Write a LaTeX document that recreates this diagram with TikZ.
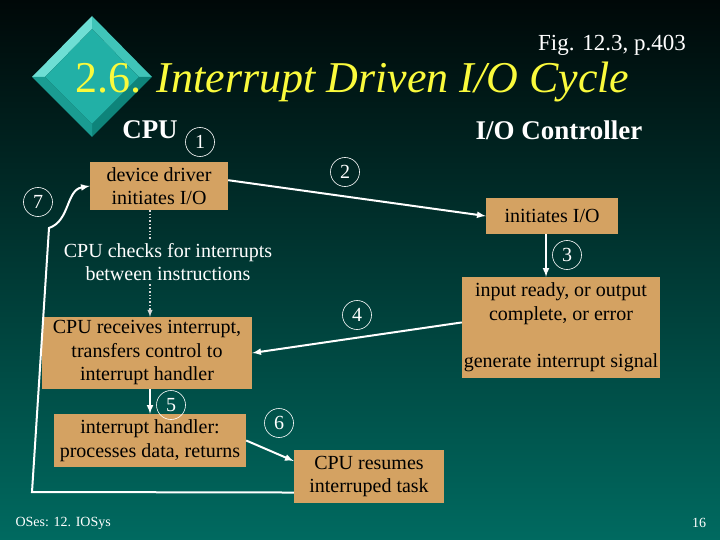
\documentclass[tikz,border=0pt]{standalone}
\usepackage{fontspec}
\setmainfont{Liberation Serif}
\usepackage{xcolor}
\usepackage{tikz}
\usetikzlibrary{calc}

\definecolor{fondhaut}{RGB}{0,8,8}
\definecolor{fondbas}{RGB}{0,106,96}
\definecolor{ocre}{RGB}{212,162,98}
\definecolor{jaune}{RGB}{250,250,60}
\definecolor{facea}{RGB}{110,222,212}
\definecolor{faceb}{RGB}{64,196,184}
\definecolor{facec}{RGB}{14,132,122}
\definecolor{faced}{RGB}{26,156,146}
\definecolor{facee}{RGB}{34,176,166}

\newcommand{\boitefont}{\fontsize{20}{23.5}\selectfont}
\newcommand{\numfont}{\fontsize{20}{22}\selectfont}
\newcommand{\titrefont}{\fontsize{27}{30}\selectfont\bfseries}

\begin{document}
\begin{tikzpicture}[x=1pt,y=-1pt,
	boite/.style={rectangle,fill=ocre,text=black,align=center,inner sep=0pt,font=\boitefont},
	num/.style={circle,draw=white,line width=0.6pt,text=white,inner sep=0pt,minimum size=29pt,font=\numfont},
	fleche/.style={->,>=latex,white,line width=2pt},
	pointille/.style={white!85!black,dotted,line width=1.4pt}]
% fond
\shade[top color=fondhaut,bottom color=fondbas] (0,0) rectangle (720,540);
\useasboundingbox (0,0) rectangle (720,540);
% losange
\coordinate (T) at (92,16);
\coordinate (R) at (152,77);
\coordinate (B) at (92,137);
\coordinate (L) at (32,77);
\coordinate (iT) at (92,29);
\coordinate (iR) at (139,77);
\coordinate (iB) at (92,124);
\coordinate (iL) at (45,77);
\fill[facea] (L)--(T)--(iT)--(iL)--cycle;
\fill[faceb] (T)--(R)--(iR)--(iT)--cycle;
\fill[facec] (R)--(B)--(iB)--(iR)--cycle;
\fill[faced] (B)--(L)--(iL)--(iB)--cycle;
\fill[facee] (iT)--(iR)--(iB)--(iL)--cycle;
% titres
\node (fig) at (612,45) {\color{white}\fontsize{23}{25}\selectfont Fig. 12.3, p.403};
\node[anchor=base west,text=jaune,inner sep=0pt] (titre) at (75,93)
	{\fontsize{44}{48}\selectfont 2.6.\hspace{0.35em}\textit{Interrupt Driven I/O Cycle}};
\node[text=white,font=\titrefont] (cpu) at (150,130) {CPU};
\node[text=white,font=\titrefont] (ctrl) at (559,130) {I/O Controller};
% boites
\node[boite,minimum width=138pt,minimum height=48pt] (driver) at (159,186) {device driver\\initiates I/O};
\node[boite,minimum width=132pt,minimum height=36pt] (init) at (552,216) {initiates I/O};
\node[boite,minimum width=198pt,minimum height=101pt] (ready) at (561,327.5)
	{input ready, or output\\complete, or error\\[24pt]generate interrupt signal};
\node[text=white,align=center,font=\boitefont] (checks) at (168,262) {CPU checks for interrupts\\between instructions};
\node[boite,minimum width=210pt,minimum height=72pt] (recoit) at (147,353)
	{CPU receives interrupt,\\transfers control to\\interrupt handler};
\node[boite,minimum width=192pt,minimum height=53pt] (handler) at (150,440.5)
	{interrupt handler:\\processes data, returns};
\node[boite,minimum width=150pt,minimum height=53pt] (reprend) at (369,476.5)
	{CPU resumes\\interruped task};
% numeros
\node[num] (n1) at (200,142) {1};
\node[num] (n2) at (345,172) {2};
\node[num] (n3) at (567,255) {3};
\node[num] (n4) at (357,315) {4};
\node[num] (n5) at (171,405) {5};
\node[num] (n6) at (279,423) {6};
\node[num] (n7) at (38,202) {7};
% fleches
\draw[fleche] ($(driver.north east)!0.38!(driver.south east)$) -- (init.west);
\draw[fleche] (init.south -| 546,0) -- (ready.north -| 546,0);
\draw[fleche] ($(ready.north west)!0.45!(ready.south west)$) -- (recoit.east);
\draw[pointille] (driver.south -| 150,0) -- (checks.north -| 150,0);
\draw[pointille,->,>=latex] (checks.south -| 150,0) -- (recoit.north -| 150,0);
\draw[fleche] (recoit.south -| 150,0) -- (handler.north -| 150,0);
\draw[fleche] (handler.east) -- ($(reprend.north west)!0.21!(reprend.south west)$);
\coordinate (C1) at (32,492);
\coordinate (C2) at (49,228);
\draw[fleche] ($(reprend.north west)!0.8!(reprend.south west)$) -- (C1) -- (C2)
	.. controls (70,221) and (66,190) .. (driver.west);
% bas de page
\node[anchor=west,text=white,font=\fontsize{14}{15}\selectfont] (pied) at (12,523) {OSes: 12. IOSys};
\node[text=white,font=\fontsize{14}{15}\selectfont] (page) at (699,523) {16};
\end{tikzpicture}
\end{document}
